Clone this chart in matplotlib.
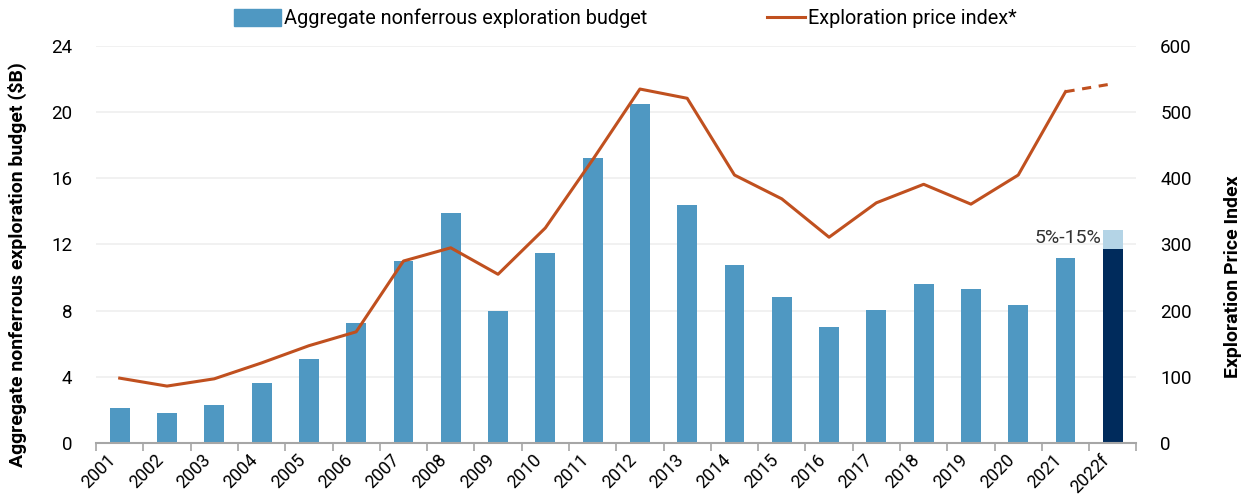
import numpy as np
import matplotlib
matplotlib.use('Agg')
import matplotlib.pyplot as plt
from matplotlib.lines import Line2D
from matplotlib.patches import Patch

plt.rcParams['font.family'] = ['Roboto', 'DejaVu Sans']

years = ['2001', '2002', '2003', '2004', '2005', '2006', '2007', '2008', '2009', '2010',
         '2011', '2012', '2013', '2014', '2015', '2016', '2017', '2018', '2019', '2020',
         '2021', '2022f']
budget = [2.1, 1.8, 2.3, 3.6, 5.1, 7.25, 11.0, 13.9, 8.0, 11.5,
          17.2, 20.5, 14.4, 10.75, 8.8, 7.0, 8.05, 9.6, 9.3, 8.35, 11.2]
budget_2022_low = 11.7
budget_2022_high = 12.9
price_index = [98, 86, 97, 121, 147, 168, 275, 295, 255, 325,
               428, 535, 521, 405, 369, 311, 363, 391, 361, 405, 531]
price_2022 = 543
range_label = '5%-15%'

bar_color = '#4F98C2'
line_color = '#C0501F'
dark_color = '#002B5C'
light_color = '#B4D4E6'

fig = plt.figure(figsize=(12.49, 4.97), dpi=100)
ax = fig.add_axes([0.0769, 0.1087, 0.833, 0.7987])
ax2 = ax.twinx()

x = np.arange(len(years))
w = 0.42
ax.bar(x[:-1], budget, width=w, color=bar_color, zorder=2)
ax.bar(x[-1], budget_2022_low, width=w, color=dark_color, zorder=2)
ax.bar(x[-1], budget_2022_high - budget_2022_low, bottom=budget_2022_low,
       width=w, color=light_color, zorder=2)
ax.text(x[-1] - w / 2 - 0.02, budget_2022_high + 0.05, range_label,
        ha='right', va='top', fontsize=14, color='#333333')

ax2.plot(x[:-1], price_index, color=line_color, lw=2.2, zorder=3)
ax2.plot([x[-2], x[-1]], [price_index[-1], price_2022], color=line_color,
         lw=2.2, ls=(0, (3, 2.5)), zorder=3)

ax.set_xlim(-0.5, len(years) - 0.5)
ax.set_ylim(0, 24)
ax.set_yticks(np.arange(0, 25, 4))
ax2.set_ylim(0, 600)
ax2.set_yticks(np.arange(0, 601, 100))
ax.yaxis.grid(True, color='#EFEFEF', lw=1.2, zorder=0)
ax.set_axisbelow(True)

ax.set_xticks(x)
ax.set_xticklabels(years, rotation=45, ha='right', fontsize=12.8)
ax.set_xticks(np.arange(-0.5, len(years), 1), minor=True)
ax.tick_params(axis='x', which='major', length=0, pad=6)
ax.tick_params(axis='x', which='minor', length=6, color='#A6A6A6', width=1.2)
ax.tick_params(axis='y', length=0, labelsize=13.5, pad=17)
ax2.tick_params(axis='y', length=0, labelsize=13.5, pad=17)

for a in (ax, ax2):
    for s in ['top', 'left', 'right']:
        a.spines[s].set_visible(False)
ax.spines['bottom'].set_color('#A6A6A6')
ax.spines['bottom'].set_linewidth(1.5)
ax2.spines['bottom'].set_visible(False)

ax.set_ylabel('Aggregate nonferrous exploration budget ($B)', fontsize=14,
              fontweight='bold')
ax.yaxis.set_label_coords(-0.066, 0.45)
ax2.set_ylabel('Exploration Price Index', fontsize=14, fontweight='bold')
ax2.yaxis.set_label_coords(1.084, 0.42)

fig.legend([Patch(color=bar_color)], ['Aggregate nonferrous exploration budget'],
           loc='center left', bbox_to_anchor=(0.187, 0.963), frameon=False,
           fontsize=14.3, handlelength=2.4, handletextpad=0.15, handleheight=0.9,
           borderaxespad=0, borderpad=0)
fig.legend([Line2D([0], [0], color=line_color, lw=2.2)], ['Exploration price index*'],
           loc='center left', bbox_to_anchor=(0.614, 0.963), frameon=False,
           fontsize=14.3, handlelength=1.9, handletextpad=0.15,
           borderaxespad=0, borderpad=0)

fig.savefig('out.png', dpi=100)
